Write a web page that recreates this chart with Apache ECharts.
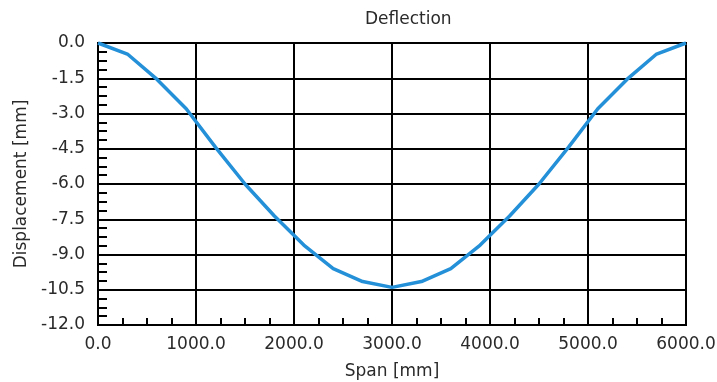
<!DOCTYPE html>
<html>
<head>
<meta charset="utf-8">
<script src="https://cdn.jsdelivr.net/npm/echarts@6/dist/echarts.min.js"></script>
<style>
  html, body { margin: 0; padding: 0; background: #fff; }
  #chart { width: 717px; height: 382px; }
</style>
</head>
<body>
<div id="chart"></div>
<script>
// Beam deflection along the span (mm)
const spanMm = [0, 300, 600, 900, 1200, 1500, 1800, 2100, 2400, 2700, 3000,
                3300, 3600, 3900, 4200, 4500, 4800, 5100, 5400, 5700, 6000];
const displacementMm = [0, -0.47, -1.54, -2.8, -4.44, -6.0, -7.36, -8.6, -9.6, -10.15, -10.4,
                        -10.15, -9.6, -8.6, -7.36, -6.0, -4.44, -2.8, -1.54, -0.47, 0];

const chartTitle = 'Deflection';
const xAxisName = 'Span [mm]';
const yAxisName = 'Displacement [mm]';

const FONT = 'DejaVu Sans';
const TEXT_COLOR = '#2a2a2a';

const chart = echarts.init(document.getElementById('chart'), null, { renderer: 'canvas' });

const points = spanMm.map((x, i) => [x, displacementMm[i]]);

chart.setOption({
  animation: false,
  backgroundColor: '#ffffff',
  title: {
    text: chartTitle,
    left: 360,
    top: 6,
    textStyle: { fontFamily: FONT, fontSize: 17, fontWeight: 'normal', color: TEXT_COLOR }
  },
  grid: {
    left: 98, right: 31, top: 43, bottom: 57,
    outerBoundsMode: 'none',
    containLabel: false,
    show: true, borderColor: '#000', borderWidth: 2, backgroundColor: 'transparent'
  },
  xAxis: {
    type: 'value',
    min: 0, max: 6000, interval: 1000,
    name: xAxisName,
    nameLocation: 'middle',
    nameGap: 38,
    nameTextStyle: { fontFamily: FONT, fontSize: 17, color: TEXT_COLOR },
    axisLine: { show: true, onZero: false, lineStyle: { color: '#000', width: 2 } },
    axisTick: { show: false, inside: true },
    minorTick: { show: true, splitNumber: 4, length: 7, lineStyle: { color: '#000', width: 2 } },
    splitLine: { show: true, lineStyle: { color: '#000', width: 2 } },
    axisLabel: {
      margin: 11,
      fontFamily: FONT, fontSize: 17, color: TEXT_COLOR,
      formatter: v => v.toFixed(1)
    }
  },
  yAxis: {
    type: 'value',
    min: -12, max: 0, interval: 1.5,
    name: yAxisName,
    nameLocation: 'middle',
    nameGap: 67,
    nameTextStyle: { fontFamily: FONT, fontSize: 17, color: TEXT_COLOR },
    axisLine: { show: true, onZero: false, lineStyle: { color: '#000', width: 2 } },
    axisTick: { show: false, inside: true },
    minorTick: { show: true, splitNumber: 4, length: 9, lineStyle: { color: '#000', width: 2 } },
    splitLine: { show: true, lineStyle: { color: '#000', width: 2 } },
    axisLabel: {
      margin: 13,
      fontFamily: FONT, fontSize: 17, color: TEXT_COLOR,
      formatter: v => v.toFixed(1)
    }
  },
  series: [{
    type: 'line',
    data: points,
    smooth: false,
    showSymbol: false,
    lineStyle: { color: '#2490d8', width: 3.5 },
    z: 5
  }]
});
</script>
</body>
</html>
